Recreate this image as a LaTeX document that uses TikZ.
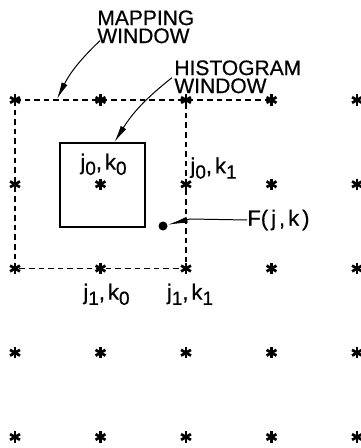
\documentclass[tikz,border=0pt]{standalone}
\usepackage{fontspec}
\setmainfont{Liberation Sans}
\newfontfamily\lblfont{Liberation Sans}[FakeBold=0.6]
\usetikzlibrary{arrows.meta,positioning}
\newcommand{\sbs}[1]{\raisebox{-2.6pt}{\fontsize{9.5}{10}\selectfont #1}}
\tikzset{
  gridpt/.style={circle, minimum size=6.8pt, inner sep=0pt,
    path picture={\foreach \a in {90,30,150}
      \draw[line width=1.35pt] ([shift={(\a:2.85pt)}]path picture bounding box.center)
        -- ([shift={(\a+180:2.85pt)}]path picture bounding box.center);}},
  mapwin/.style={draw=black, line width=0.95pt, dash pattern=on 2.8pt off 2pt},
  histwin/.style={rectangle, draw=black, line width=1pt,
    minimum width=42.5pt, minimum height=42pt, inner sep=0pt},
  calllabel/.style={inner sep=0pt, align=left, font=\lblfont\fontsize{10.5}{9}\selectfont},
  ptlabel/.style={inner sep=0pt, font=\lblfont\fontsize{11}{12}\selectfont},
  pointer/.style={-{Latex[length=8.5pt,width=3.2pt]}, line width=0.5pt},
}

\begin{document}
\begin{tikzpicture}[x=0.5pt, y=-0.5pt,
    sample/.style={circle, fill=black, inner sep=0pt, minimum size=4.5pt}]

  \useasboundingbox (0,0) rectangle (360,448);

  % Grid of sample points
  \foreach \r in {0,...,4}
    \foreach \c in {0,...,4}
      \node[gridpt] (p\r\c) at ({15+85.5*\c},{100+84.25*\r}) {};

  % Mapping window
  \draw[mapwin] (p00.center) -- (p03.center);
  \draw[mapwin] (p00.center) -- (p20.center) -- (p22.center) -- (p02.center);

  % Histogram window
  \node[histwin, xshift=1pt, yshift=-0.4pt] (hist) at (p11) {};

  % Point labels
  \node[ptlabel, above=0.8pt of p11, xshift=1.5pt] (l00) {j\sbs{0},\kern1.5pt k\sbs{0}};
  \node[ptlabel, anchor=south west, xshift=-0.5pt] (l01) at (p12.north east) {j\sbs{0},\kern1.5pt k\sbs{1}};
  \node[ptlabel, below=3.8pt of p21, xshift=3pt] (l10) {j\sbs{1},\kern1.5pt k\sbs{0}};
  \node[ptlabel, below=3.8pt of p22, xshift=2pt] (l11) {j\sbs{1},\kern1.5pt k\sbs{1}};

  % Output point
  \node[sample] (fpt) at (163,226) {};
  \node[ptlabel, anchor=west] (flbl) at (247,220) {F(\kern1.5pt j\kern1.5pt,\kern1.5pt k\kern1.5pt)};
  \coordinate (fbend) at (190,219);
  \draw[pointer, -{Latex[length=10pt,width=3pt]}] (flbl.west) -- (fbend) -- (fpt);

  % Callouts
  \node[calllabel, anchor=north west] (maplbl) at (97,10) {MAPPING\\WINDOW};
  \node[calllabel, anchor=north west] (histlbl) at (174,60) {HISTOGRAM\\WINDOW};
  \coordinate (maptip) at (57,99);
  \draw[pointer] ([shift={(1.5pt,1.5pt)}]maplbl.south west) to[bend right=10] (maptip);
  \draw[pointer] ([shift={(-1pt,8pt)}]histlbl.south west) to[bend right=10] ([xshift=6pt]hist.north);

\end{tikzpicture}
\end{document}
